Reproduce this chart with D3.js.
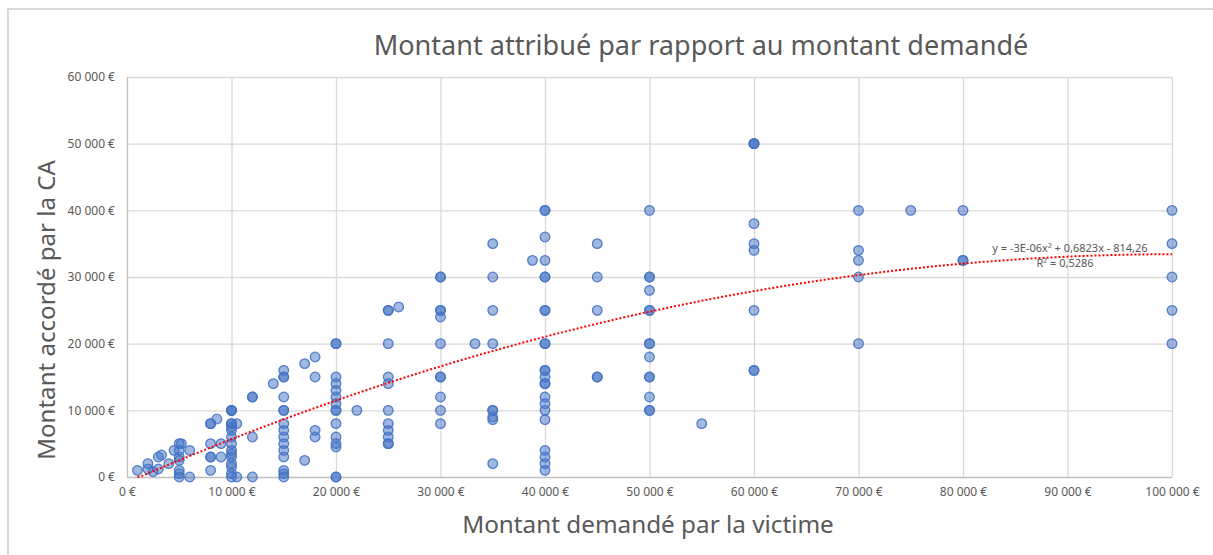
<!DOCTYPE html>
<html>
<head>
<meta charset="utf-8">
<script src="https://cdn.jsdelivr.net/npm/d3@7"></script>
<style>
  body { margin: 0; background: #fff; }
  svg { display: block; font-family: "Noto Sans", "Open Sans", sans-serif; }
</style>
</head>
<body>
<svg id="chart" width="1213" height="555"></svg>
<script>
// Data (x = montant demandé, y = montant accordé)
var montantDemande = [
  1000, 2000, 2000, 2500, 3000, 3300, 3000, 4000, 4500,
  5000, 5200, 5000, 5000, 5000, 5000, 5000, 5000,
  6000, 6000,
  8000, 8000, 8600, 8000, 8000, 8000, 8000, 9000, 9000,
  10000, 10000, 10000, 10000, 10000, 10000, 10000, 10000, 10000, 10000, 10000, 10000, 10000, 10000, 10000, 10000,
  10500, 10500,
  12000, 12000, 12000, 12000, 14000,
  15000, 15000, 15000, 15000, 15000, 15000, 15000, 15000, 15000, 15000, 15000, 15000, 15000, 15000, 15000,
  17000, 17000, 18000, 18000, 18000, 18000,
  20000, 20000, 20000, 20000, 20000, 20000, 20000, 20000, 20000, 20000, 20000, 20000, 20000, 20000, 20000,
  22000,
  25000, 25000, 25000, 25000, 25000, 25000, 25000, 25000, 25000, 25000, 25000,
  26000,
  30000, 30000, 30000, 30000, 30000, 30000, 30000, 30000, 30000, 30000, 30000,
  33300,
  35000, 35000, 35000, 35000, 35000, 35000, 35000, 35000, 35000,
  38800,
  40000, 40000, 40000, 40000, 40000, 40000, 40000, 40000, 40000, 40000, 40000, 40000, 40000, 40000, 40000,
  40000, 40000, 40000, 40000, 40000, 40000, 40000, 40000,
  45000, 45000, 45000, 45000, 45000,
  50000, 50000, 50000, 50000, 50000, 50000, 50000, 50000, 50000, 50000, 50000, 50000, 50000, 50000,
  55000,
  60000, 60000, 60000, 60000, 60000, 60000, 60000, 60000, 60000,
  70000, 70000, 70000, 70000, 70000,
  75000,
  80000, 80000, 80000,
  100000, 100000, 100000, 100000, 100000
];
var montantAccorde = [
  1000, 2000, 1200, 800, 3000, 3300, 1200, 2000, 4000,
  5000, 5000, 4000, 3000, 2500, 1000, 500, 0,
  4000, 0,
  8000, 8000, 8700, 5000, 3000, 3000, 1000, 5000, 3000,
  10000, 10000, 10000, 8000, 8000, 7500, 7000, 6000, 5000, 4000, 3500, 3000, 2000, 1500, 500, 0,
  8000, 0,
  12000, 12000, 6000, 0, 14000,
  16000, 15000, 15000, 12000, 10000, 10000, 8000, 7000, 6000, 5000, 4000, 3000, 1000, 500, 0,
  17000, 2500, 18000, 15000, 7000, 6000,
  20000, 20000, 15000, 14000, 13000, 12000, 11000, 10000, 10000, 8000, 6000, 5000, 4500, 0, 0,
  10000,
  25000, 25000, 20000, 15000, 14000, 10000, 8000, 7000, 6000, 5000, 5000,
  25500,
  30000, 30000, 25000, 25000, 24000, 20000, 15000, 15000, 12000, 10000, 8000,
  20000,
  35000, 30000, 25000, 20000, 10000, 10000, 9000, 8600, 2000,
  32500,
  40000, 40000, 36000, 32500, 30000, 30000, 25000, 25000, 20000, 20000, 16000, 16000, 15000, 14000, 14000,
  12000, 11000, 10000, 8600, 4000, 3000, 2000, 1000,
  35000, 30000, 25000, 15000, 15000,
  40000, 30000, 30000, 28000, 25000, 25000, 20000, 20000, 18000, 15000, 15000, 12000, 10000, 10000,
  8000,
  50000, 50000, 50000, 38000, 35000, 34000, 25000, 16000, 16000,
  40000, 34000, 32500, 30000, 20000,
  40000,
  40000, 32500, 32500,
  40000, 35000, 30000, 25000, 20000
];

var xTicks = [0, 10000, 20000, 30000, 40000, 50000, 60000, 70000, 80000, 90000, 100000];
var yTicks = [0, 10000, 20000, 30000, 40000, 50000, 60000];

// polynomial trendline (order 2) as printed on the chart
var trendCoef = [-3.4e-6, 0.6823, -814.26];
var trendLabel = ["y = -3E-06x\u00b2 + 0,6823x - 814,26", "R\u00b2 = 0,5286"];

var titre = "Montant attribué par rapport au montant demandé";
var titreX = "Montant demandé par la victime";
var titreY = "Montant accordé par la CA";

var svg = d3.select("#chart");
var grey = "#595959";

var fr = d3.formatLocale({decimal: ",", thousands: "\u00a0", grouping: [3], currency: ["", "\u00a0€"]});
var fmt = fr.format("$,.0f");

var x = d3.scaleLinear().domain([0, 100000]).range([127, 1172]);
var y = d3.scaleLinear().domain([0, 60000]).range([477, 77]);

// outer chart border (cropped on right/bottom)
svg.append("path")
    .attr("d", "M8,556 L8,9 L1214,9")
    .attr("fill", "none")
    .attr("stroke", "#d9d9d9")
    .attr("stroke-width", 2);

// gridlines
svg.append("g").selectAll("line.h")
    .data(yTicks)
  .enter().append("line")
    .attr("x1", x(0)).attr("x2", x(100000))
    .attr("y1", function(d) { return y(d) + 0.5; })
    .attr("y2", function(d) { return y(d) + 0.5; })
    .attr("stroke", function(d) { return d === 0 ? "#bfbfbf" : "#d9d9d9"; })
    .attr("stroke-width", 1.3);

svg.append("g").selectAll("line.v")
    .data(xTicks)
  .enter().append("line")
    .attr("y1", y(0)).attr("y2", y(60000))
    .attr("x1", function(d) { return x(d) + 0.5; })
    .attr("x2", function(d) { return x(d) + 0.5; })
    .attr("stroke", function(d) { return d === 0 ? "#bfbfbf" : "#d9d9d9"; })
    .attr("stroke-width", 1.3);

// axes (labels only, the lines are drawn above)
var xAxis = svg.append("g")
    .attr("transform", "translate(0," + (y(0) + 6) + ")")
    .call(d3.axisBottom(x).tickValues(xTicks).tickFormat(fmt).tickSize(0).tickPadding(4));
var yAxis = svg.append("g")
    .attr("transform", "translate(" + (x(0) - 12) + ",0)")
    .call(d3.axisLeft(y).tickValues(yTicks).tickFormat(fmt).tickSize(0).tickPadding(0));
[xAxis, yAxis].forEach(function(a) {
    a.select(".domain").remove();
    a.selectAll("text")
        .attr("fill", grey)
        .style("font-size", "12px")
        .style("font-family", "'Noto Sans', sans-serif");
});

// points
var points = d3.range(montantDemande.length).map(function(i) {
    return {x: montantDemande[i], y: montantAccorde[i]};
});
svg.append("g").selectAll("circle")
    .data(points)
  .enter().append("circle")
    .attr("cx", function(d) { return x(d.x); })
    .attr("cy", function(d) { return y(d.y); })
    .attr("r", 4.8)
    .attr("fill", "rgba(68,114,196,0.5)")
    .attr("stroke", "rgba(68,114,196,0.9)")
    .attr("stroke-width", 1.3);

// trendline over the data range
var xMin = d3.min(montantDemande), xMax = d3.max(montantDemande);
var trend = d3.range(xMin, xMax + 1, 500).map(function(v) {
    return [v, trendCoef[0] * v * v + trendCoef[1] * v + trendCoef[2]];
});
svg.append("path")
    .datum(trend)
    .attr("d", d3.line()
        .x(function(d) { return x(d[0]); })
        .y(function(d) { return y(Math.max(d[1], 0)); }))
    .attr("fill", "none")
    .attr("stroke", "#ff0000")
    .attr("stroke-width", 2)
    .attr("stroke-dasharray", "2 2");

svg.append("text")
    .attr("x", 1070).attr("y", 252)
    .attr("text-anchor", "middle")
    .attr("fill", grey)
    .style("font-size", "11px")
    .text(trendLabel[0]);
svg.append("text")
    .attr("x", 1065).attr("y", 267)
    .attr("text-anchor", "middle")
    .attr("fill", grey)
    .style("font-size", "11px")
    .text(trendLabel[1]);

// titles, sized to the width they take in the reference
function fitText(sel, width) {
    var w = sel.node().getComputedTextLength();
    var fs = parseFloat(sel.style("font-size"));
    sel.style("font-size", (fs * width / w) + "px");
}

var t = svg.append("text")
    .attr("x", 701).attr("y", 55)
    .attr("text-anchor", "middle")
    .attr("fill", grey)
    .style("font-size", "24px")
    .text(titre);
fitText(t, 655);

var tx = svg.append("text")
    .attr("x", 648).attr("y", 533)
    .attr("text-anchor", "middle")
    .attr("fill", grey)
    .style("font-size", "24px")
    .text(titreX);
fitText(tx, 372);

var ty = svg.append("text")
    .attr("transform", "translate(55,310) rotate(-90)")
    .attr("text-anchor", "middle")
    .attr("fill", grey)
    .style("font-size", "24px")
    .text(titreY);
fitText(ty, 300);
</script>
</body>
</html>
